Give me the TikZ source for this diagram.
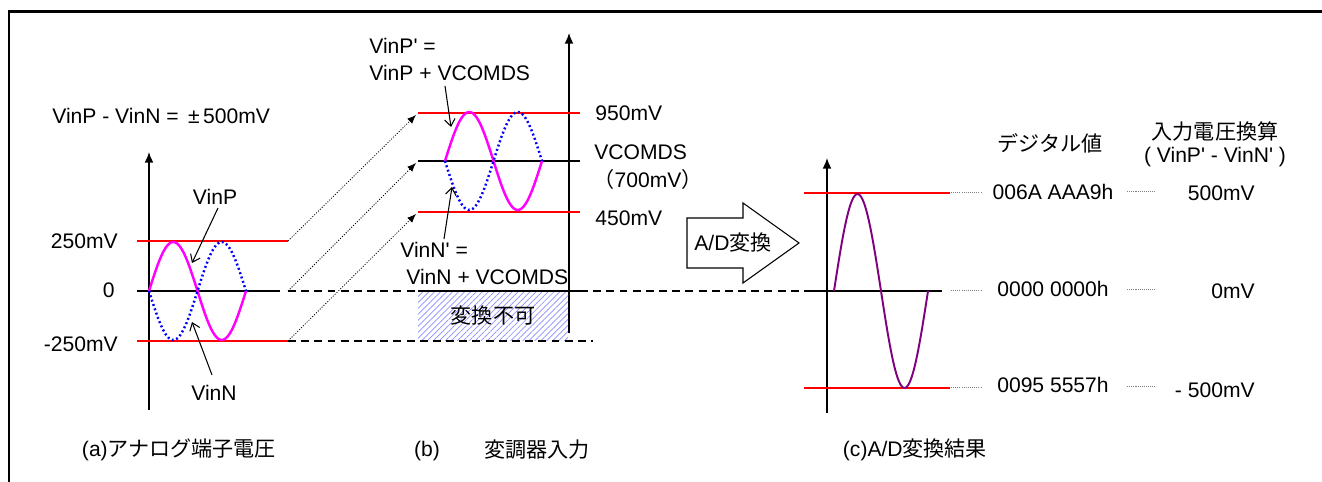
\documentclass[tikz,border=0pt]{standalone}
\usepackage{fontspec}
\setmainfont{Liberation Sans}
\newfontfamily\latinfont{Liberation Sans}
\newfontfamily\jpfont{Noto Sans CJK JP}
\usetikzlibrary{arrows.meta,patterns.meta}
\newcommand{\ja}[1]{{\jpfont #1}}

\begin{document}
\begin{tikzpicture}[x=0.02cm, y=-0.02cm, >=Latex, line cap=butt,
    font=\latinfont\fontsize{12}{14}\selectfont,
    every node/.style={inner sep=0pt},
    level/.style={vred, line width=1.1pt},
    zeroline/.style={line width=1.7pt},
    axis/.style={line width=0.8pt, -{Latex[length=6pt,width=5pt]}},
    psine/.style={vmag, line width=1.4pt},
    nsine/.style={vblue, line width=1.4pt, dash pattern=on 1.1pt off 1.5pt},
    pointer/.style={line width=0.6pt, -{Straight Barb[length=4pt,width=6pt]}},
    shiftline/.style={line width=0.45pt, dash pattern=on 0.6pt off 0.9pt, -{Latex[length=5pt,width=4pt]}},
    guide/.style={line width=0.8pt, dash pattern=on 4.5pt off 3pt},
    tick/.style={gray, line width=0.4pt, dash pattern=on 0.6pt off 0.6pt}]
  \definecolor{vred}{HTML}{FF0000}
  \definecolor{vmag}{HTML}{FF00FF}
  \definecolor{vblue}{HTML}{0000FF}
  \definecolor{vpurple}{HTML}{800080}
  \useasboundingbox (0,0) rectangle (1322,482);
  % frame
  \draw[line width=1.7pt] (9,482) -- (9,12) -- (1322,12);

  % (a) analog pins
  \node[anchor=west] (diff) at (52,116) {VinP - VinN = \,±\,500mV};
  \draw[axis] (149,410) -- (149,152);
  \coordinate (aTop) at (288,241);
  \coordinate (aMid) at (288,291);
  \coordinate (aBot) at (288,341);
  \draw[level] (137,241) -- (aTop);
  \draw[level] (137,341) -- (aBot);
  \draw[zeroline] (137,291) -- (280,291);
  \draw[psine] plot[domain=0:97, samples=60] ({149+\x},{291-49*sin(\x/97*360)});
  \draw[nsine] plot[domain=0:97, samples=60] ({149+\x},{291+49*sin(\x/97*360)});
  \node[anchor=east] (a250) at (118,241) {250mV};
  \node[anchor=east] (a0) at (115,290) {0};
  \node[anchor=east] (am250) at (118,344) {-250mV};
  \node (vinp) at (215,197) {VinP};
  \node (vinn) at (214,393) {VinN};
  \coordinate (vinpTip) at (192,263);
  \coordinate (vinnTip) at (192,322);
  \draw[pointer] (218,208) -- (vinpTip);
  \draw[pointer] (212,375) -- (vinnTip);
  \node (capa) at (179,450) {(a)\ja{アナログ端子電圧}};

  % (b) modulator input
  \draw[axis] (569,333) -- (569,33);
  \coordinate (bTop) at (418,113);
  \coordinate (bMid) at (418,161);
  \coordinate (bBot) at (418,212);
  \fill[pattern={Lines[angle=45, distance=2.4pt, line width=0.4pt]}, pattern color=vblue!45]
        (418,291) rectangle (568,341);
  \draw[level] (bTop) -- (580,113);
  \draw[line width=0.6pt] (bMid) -- (580,161);
  \draw[level] (bBot) -- (580,212);
  \draw[zeroline] (418,291) -- (580,291);
  \draw[psine] plot[domain=0:97, samples=60] ({445+\x},{161-49*sin(\x/97*360)});
  \draw[nsine] plot[domain=0:97, samples=60] ({445+\x},{161+49*sin(\x/97*360)});
  \draw[shiftline] (aTop) -- ([shift={(-2,2)}]bTop);
  \draw[shiftline] (aMid) -- ([shift={(-2,2)}]bMid);
  \draw[shiftline] (aBot) -- ([shift={(-2,2)}]bBot);
  \draw[guide] (aMid) -- (418,291);
  \draw[guide] (580,291) -- (800,291);
  \draw[guide] (aBot) -- (593,341);
  \node[anchor=west] (b950) at (595,113) {950mV};
  \node[anchor=west] (bcom) at (594,152) {VCOMDS};
  \node (b700) at (648,179) {\ja{（}700mV\ja{）}};
  \node[anchor=west] (b450) at (595,218) {450mV};
  \node[anchor=west] (vinpa) at (369,46) {VinP' =};
  \node[anchor=west] (vinpb) at (369,73) {VinP + VCOMDS};
  \node[anchor=west] (vinna) at (400,250) {VinN' =};
  \node[anchor=west] (vinnb) at (406,277) {VinN + VCOMDS};
  \coordinate (vinpbTip) at (451,127);
  \coordinate (vinnbTip) at (452,187);
  \draw[pointer] (445,86) -- (vinpbTip);
  \draw[pointer] (444,239) -- (vinnbTip);
  \node (ng) at (493,316) {\ja{変換不可}};
  \node (capb) at (427,451) {(b)};
  \node (capbt) at (537,450) {\ja{変調器入力}};

  % A/D arrow
  \draw[line width=0.6pt, fill=white] (687,218) -- (743,218) -- (743,203) -- (799,243)
        -- (743,283) -- (743,268) -- (687,268) -- cycle;
  \node (adc) at (733,243) {A/D\ja{変換}};

  % (c) conversion result
  \draw[axis] (827,413) -- (827,158);
  \draw[level] (804,193) -- (950,193);
  \draw[level] (804,388) -- (950,388);
  \draw[zeroline] (804,291) -- (942,291);
  \draw[vpurple, line width=1.1pt] plot[domain=0:94, samples=60] ({834+\x},{291-97*sin(\x/94*360)});
  \foreach \y/\yb in {192/191, 290/289, 387/386} {
    \draw[tick] (951,\y) -- (982,\y);
    \draw[tick] (1127,\yb) -- (1156,\yb);
  }
  \node (dig) at (1050,143) {\ja{デジタル値}};
  \node (vin) at (1215,131) {\ja{入力電圧換算}};
  \node (vind) at (1215,157) {( VinP' - VinN' )};
  \node (cTop) at (1053,192) {006A AAA9h};
  \node (cMid) at (1053,289) {0000 0000h};
  \node (cBot) at (1053,385) {0095 5557h};
  \node[anchor=east] (vTop) at (1255,193) {500mV};
  \node[anchor=east] (vMid) at (1255,291) {0mV};
  \node[anchor=east] (vBot) at (1255,390) {- 500mV};
  \node (capc) at (915,450) {(c)A/D\ja{変換結果}};
\end{tikzpicture}
\end{document}
